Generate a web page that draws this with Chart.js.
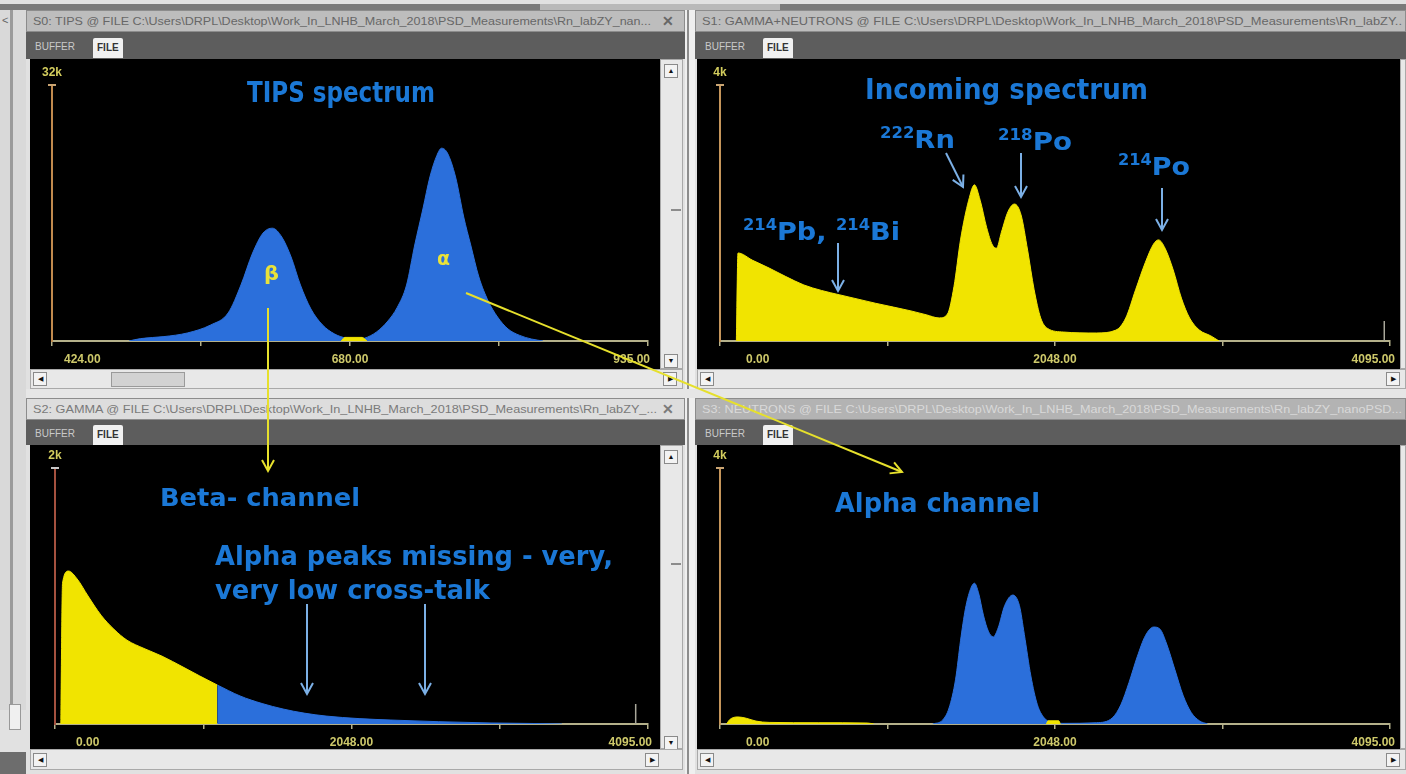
<!DOCTYPE html>
<html lang="en">
<head>
<meta charset="UTF-8">
<title>Rn spectra - TIPS, gamma and neutron channels</title>
<script src="https://cdn.jsdelivr.net/npm/chart.js"></script>
<style>
    body {
        margin: 0;
        width: 1406px;
        height: 774px;
        position: relative;
        overflow: hidden;
        background: #e1e1e1;
        font-family: "Liberation Sans", Arial, sans-serif;
    }
    .strip { position: absolute; }
    .titlebar {
        position: absolute;
        height: 22px;
        line-height: 21px;
        box-sizing: border-box;
        border: 1px solid #8c8c8c;
        font-size: 11px;
        white-space: nowrap;
        overflow: hidden;
    }
    .titlebar .txt { position: absolute; left: 6px; top: 0; transform-origin: 0 50%; }
    .titlebar .x { position: absolute; right: 10px; top: 0; font-size: 14px; font-weight: bold; }
    .tabrow { position: absolute; background: #5d5d5d; }
    .tab { position: absolute; font-size: 10px; height: 20px; line-height: 20px; }
    .tab.off { color: #c9c9c9; }
    .tab.on { background: #f1f1f1; color: #333; font-weight: bold; padding: 0 4px; border-radius: 2px 2px 0 0; }
    .plot { position: absolute; background: #000; }
    .scroll { position: absolute; background: #e8e8e8; box-sizing: border-box; border: 1px solid #a9a9a9; }
    .btn {
        position: absolute; width: 14px; height: 14px; box-sizing: border-box;
        background: #f3f3f3; border: 1px solid #8a8a8a;
        font-size: 7px; line-height: 12px; text-align: center; color: #111;
    }
    .thumb { position: absolute; background: #d2d2d2; border: 1px solid #9a9a9a; box-sizing: border-box; }
    .ann {
        position: absolute;
        font-family: "DejaVu Sans", sans-serif;
        font-weight: bold;
        color: #1b78d6;
        line-height: 1;
        white-space: nowrap;
        transform-origin: 0 0;
    }
    .ann sup { font-size: 0.6em; position: relative; top: -0.1em; vertical-align: top; }
    .greek { color: #e9e23a; }
    #overlay { position: absolute; left: 0; top: 0; width: 1406px; height: 774px; pointer-events: none; }
</style>
</head>
<body>

<!-- background chrome -->
<div class="strip" style="left:0;top:4px;width:1406px;height:6px;background:#7a7a7a"></div>
<div class="strip" style="left:540px;top:4px;width:240px;height:6px;background:#b9b9b9"></div>
<div class="strip" style="left:0;top:10px;width:26px;height:700px;background:#d9d9d9"></div>
<div class="strip" style="left:10px;top:10px;width:3px;height:700px;background:#9b9b9b"></div>
<div class="strip" style="left:2px;top:14px;font-size:11px;color:#666">&lt;</div>
<div class="strip" style="left:9px;top:704px;width:10px;height:24px;background:#f0f0f0;border:1px solid #999"></div>
<div class="strip" style="left:0;top:752px;width:26px;height:22px;background:#6d6d6d"></div>
<div class="strip" style="left:685px;top:10px;width:10px;height:764px;background:#efefef"></div>
<div class="strip" style="left:687px;top:10px;width:2px;height:764px;background:#8d8d8d"></div>
<div class="strip" style="left:26px;top:389px;width:1380px;height:9px;background:#e6e6e6"></div>

<!-- S0 : TIPS -->
<div class="titlebar" style="left:26px;top:10px;width:659px;background:#bdbdbd;color:#676767">
    <span class="txt" data-w="618">S0: TIPS @ FILE C:\Users\DRPL\Desktop\Work_In_LNHB_March_2018\PSD_Measurements\Rn_labZY_nan...</span>
    <span class="x">✕</span>
</div>
<div class="tabrow" style="left:26px;top:32px;width:659px;height:27px">
    <span class="tab off" style="left:9px;top:5px">BUFFER</span>
    <span class="tab on" style="left:67px;top:6px">FILE</span>
</div>
<div class="plot" style="left:30px;top:59px;width:630px;height:310px"><canvas id="tipsChart"></canvas></div>
<div class="scroll" style="left:660px;top:59px;width:23px;height:310px">
    <div class="btn" style="left:3px;top:4px">▲</div>
    <div class="strip" style="left:10px;top:149px;width:10px;height:2px;background:#8c8c8c"></div>
    <div class="btn" style="left:3px;top:294px">▼</div>
</div>
<div class="scroll" style="left:30px;top:369px;width:653px;height:20px">
    <div class="btn" style="left:2px;top:2px">◀</div>
    <div class="thumb" style="left:80px;top:2px;width:74px;height:15px"></div>
    <div class="btn" style="left:632px;top:2px">▶</div>
</div>

<!-- S1 : GAMMA+NEUTRONS -->
<div class="titlebar" style="left:695px;top:10px;width:711px;background:#bdbdbd;color:#676767">
    <span class="txt" data-w="700">S1: GAMMA+NEUTRONS @ FILE C:\Users\DRPL\Desktop\Work_In_LNHB_March_2018\PSD_Measurements\Rn_labZY..</span>
</div>
<div class="tabrow" style="left:695px;top:32px;width:711px;height:27px">
    <span class="tab off" style="left:10px;top:5px">BUFFER</span>
    <span class="tab on" style="left:68px;top:6px">FILE</span>
</div>
<div class="plot" style="left:697px;top:59px;width:703px;height:310px"><canvas id="incomingChart"></canvas></div>
<div class="scroll" style="left:1400px;top:59px;width:6px;height:310px"></div>
<div class="scroll" style="left:697px;top:369px;width:709px;height:20px">
    <div class="btn" style="left:2px;top:2px">◀</div>
    <div class="btn" style="left:688px;top:2px">▶</div>
</div>

<!-- S2 : GAMMA -->
<div class="titlebar" style="left:26px;top:398px;width:659px;background:#dddddd;color:#7a7a7a">
    <span class="txt" data-w="624">S2: GAMMA @ FILE C:\Users\DRPL\Desktop\Work_In_LNHB_March_2018\PSD_Measurements\Rn_labZY_...</span>
    <span class="x">✕</span>
</div>
<div class="tabrow" style="left:26px;top:420px;width:659px;height:25px">
    <span class="tab off" style="left:9px;top:4px">BUFFER</span>
    <span class="tab on" style="left:67px;top:5px">FILE</span>
</div>
<div class="plot" style="left:30px;top:445px;width:630px;height:304px"><canvas id="gammaChart"></canvas></div>
<div class="scroll" style="left:660px;top:445px;width:23px;height:304px">
    <div class="btn" style="left:3px;top:4px">▲</div>
    <div class="strip" style="left:10px;top:117px;width:10px;height:2px;background:#8c8c8c"></div>
    <div class="btn" style="left:3px;top:290px">▼</div>
</div>
<div class="scroll" style="left:30px;top:749px;width:653px;height:21px">
    <div class="btn" style="left:2px;top:3px">◀</div>
    <div class="btn" style="left:614px;top:3px">▶</div>
</div>

<!-- S3 : NEUTRONS -->
<div class="titlebar" style="left:695px;top:398px;width:711px;background:#b3b3b3;color:#d9d9d9">
    <span class="txt" data-w="700">S3: NEUTRONS @ FILE C:\Users\DRPL\Desktop\Work_In_LNHB_March_2018\PSD_Measurements\Rn_labZY_nanoPSD...</span>
</div>
<div class="tabrow" style="left:695px;top:420px;width:711px;height:25px">
    <span class="tab off" style="left:10px;top:4px">BUFFER</span>
    <span class="tab on" style="left:68px;top:5px">FILE</span>
</div>
<div class="plot" style="left:697px;top:445px;width:703px;height:304px"><canvas id="neutronChart"></canvas></div>
<div class="scroll" style="left:1400px;top:445px;width:6px;height:304px"></div>
<div class="scroll" style="left:697px;top:749px;width:709px;height:21px">
    <div class="btn" style="left:2px;top:3px">◀</div>
    <div class="btn" style="left:688px;top:3px">▶</div>
</div>

<!-- annotations -->
<div class="ann" style="left:247px;top:79px;font-size:28px" data-w="188">TIPS spectrum</div>
<div class="ann greek" style="left:264px;top:263px;font-size:20px" data-w="15">β</div>
<div class="ann greek" style="left:437px;top:248px;font-size:20px" data-w="13">α</div>

<div class="ann" style="left:865px;top:76px;font-size:28px" data-w="283">Incoming spectrum</div>
<div class="ann" style="left:880px;top:127px;font-size:25px" data-w="75"><sup>222</sup>Rn</div>
<div class="ann" style="left:998px;top:129px;font-size:25px" data-w="74"><sup>218</sup>Po</div>
<div class="ann" style="left:1118px;top:154px;font-size:25px" data-w="72"><sup>214</sup>Po</div>
<div class="ann" style="left:743px;top:219px;font-size:25px" data-w="157"><sup>214</sup>Pb, <sup>214</sup>Bi</div>

<div class="ann" style="left:160px;top:485px;font-size:25px" data-w="200">Beta- channel</div>
<div class="ann" style="left:215px;top:543px;font-size:26px" data-w="398">Alpha peaks missing - very,</div>
<div class="ann" style="left:215px;top:577px;font-size:26px" data-w="275">very low cross-talk</div>

<div class="ann" style="left:835px;top:490px;font-size:26px" data-w="205">Alpha channel</div>

<svg id="overlay" xmlns="http://www.w3.org/2000/svg"></svg>

<script>
    // S0: TIPS spectrum (channels 424..935)
    const tipsChannels = [490, 500, 520, 540, 560, 575, 586, 596, 605, 613, 621, 629, 637, 646, 656, 666, 676, 684, 692, 702, 712, 720, 728, 735, 742, 748, 754, 758, 763, 770, 777, 783, 790, 798, 806, 815, 825, 835, 845];
    const tipsCounts = [0, 300, 550, 1000, 2000, 3500, 7000, 11000, 13500, 14100, 13000, 10500, 7000, 4000, 2000, 900, 350, 150, 350, 1100, 2500, 4200, 7000, 12000, 16500, 20500, 23200, 24100, 23500, 20500, 15500, 12000, 8000, 5000, 3000, 1500, 700, 250, 0];
    const tipsCutChannels = [672, 675, 690, 694];
    const tipsCutCounts = [0, 450, 450, 0];

    // S1: incoming spectrum (gamma + neutrons), channels 0..4095
    const incomingChannels = [100, 110, 200, 300, 400, 513, 620, 733, 850, 950, 1060, 1167, 1260, 1340, 1390, 1430, 1470, 1520, 1555, 1590, 1630, 1665, 1690, 1720, 1760, 1800, 1840, 1880, 1920, 1960, 2000, 2100, 2300, 2420, 2480, 2540, 2600, 2650, 2680, 2720, 2770, 2820, 2870, 2930, 3000, 3050];
    const incomingCounts = [0, 1375, 1260, 1140, 1010, 875, 790, 720, 650, 590, 530, 470, 410, 360, 420, 850, 1580, 2200, 2440, 2200, 1770, 1500, 1450, 1700, 2020, 2140, 1970, 1420, 800, 360, 200, 140, 125, 170, 360, 800, 1230, 1515, 1580, 1450, 1110, 670, 360, 170, 80, 0];

    // S2: gamma (beta) channel, low part in yellow, rest in blue
    const betaLowChannels = [40, 52, 93, 153, 228, 318, 407, 497, 615, 739, 884, 1000, 1120];
    const betaLowCounts = [0, 1100, 1195, 1133, 1000, 850, 740, 655, 590, 530, 445, 375, 305];
    const betaHighChannels = [1120, 1278, 1430, 1575, 1720, 1872, 2100, 2320, 2650, 3011, 3300, 3500];
    const betaHighCounts = [305, 219, 160, 117, 85, 62, 42, 31, 18, 8, 4, 0];

    // S3: neutron (alpha) channel
    const alphaChannels = [1300, 1360, 1400, 1440, 1470, 1500, 1530, 1555, 1580, 1610, 1640, 1670, 1700, 1740, 1790, 1830, 1860, 1900, 1940, 1980, 2020, 2100, 2300, 2400, 2450, 2500, 2550, 2600, 2650, 2690, 2730, 2780, 2830, 2880, 2930, 2980];
    const alphaCounts = [0, 60, 250, 700, 1300, 1800, 2100, 2200, 2050, 1700, 1450, 1360, 1500, 1850, 2015, 1850, 1400, 750, 300, 100, 30, 10, 20, 100, 300, 650, 1050, 1380, 1515, 1480, 1250, 850, 450, 180, 50, 0];
    const alphaLowChannels = [40, 60, 110, 160, 220, 300, 600, 900, 940];
    const alphaLowCounts = [0, 70, 110, 90, 45, 25, 20, 15, 0];
    const alphaMidChannels = [1995, 2005, 2070, 2080];
    const alphaMidCounts = [0, 50, 50, 0];

    // axis ticks / labels
    const tipsTicks = [424, 551.75, 679.5, 807.25, 935];
    const tipsTickLabels = ['424.00', '680.00', '935.00'];
    const fullTicks = [0, 1023.75, 2047.5, 3071.25, 4095];
    const fullTickLabels = ['0.00', '2048.00', '4095.00'];

    const BLUE = '#2b6fdb';
    const YELLOW = '#f1e400';
    const AXIS = '#b4b08a';

    const toPoints = (xs, ys) => xs.map((x, i) => ({ x: x, y: ys[i] }));

    function area(xs, ys, color) {
        return {
            data: toPoints(xs, ys),
            borderColor: color,
            backgroundColor: color,
            borderWidth: 1,
            pointRadius: 0,
            fill: 'origin',
            cubicInterpolationMode: 'monotone'
        };
    }

    // y-axis top label ("32k"), cap, end marker and the three x labels
    const axisDecor = {
        id: 'axisDecor',
        afterDraw(chart, args, opts) {
            const { ctx, chartArea, scales } = chart;
            const x0 = chartArea.left;
            ctx.save();
            ctx.strokeStyle = opts.capColor;
            ctx.lineWidth = 2;
            ctx.beginPath();
            ctx.moveTo(x0 - 4, chartArea.top);
            ctx.lineTo(x0 + 4, chartArea.top);
            ctx.stroke();

            ctx.fillStyle = '#d3cd5e';
            ctx.font = 'bold 12px "Liberation Sans", Arial, sans-serif';
            ctx.textAlign = 'center';
            ctx.textBaseline = 'bottom';
            ctx.fillText(opts.topLabel, x0, chartArea.top - 6);

            if (opts.marker != null) {
                const mx = scales.x.getPixelForValue(opts.marker);
                ctx.strokeStyle = '#a9a79a';
                ctx.lineWidth = 1.5;
                ctx.beginPath();
                ctx.moveTo(mx, chartArea.bottom);
                ctx.lineTo(mx, chartArea.bottom - 20);
                ctx.stroke();
            }

            ctx.fillStyle = '#cdc86a';
            ctx.textBaseline = 'middle';
            const ly = chartArea.bottom + 19;
            const t = opts.ticks;
            const lab = opts.labels;
            ctx.textAlign = 'left';
            ctx.fillText(lab[0], scales.x.getPixelForValue(t[0]) + opts.firstOffset, ly);
            ctx.textAlign = 'center';
            ctx.fillText(lab[1], scales.x.getPixelForValue(t[2]), ly);
            ctx.textAlign = 'right';
            ctx.fillText(lab[2], scales.x.getPixelForValue(t[4]) + opts.lastOffset, ly);
            ctx.restore();
        }
    };

    function spectrum(id, cfg) {
        return new Chart(document.getElementById(id), {
            type: 'line',
            data: { datasets: cfg.datasets },
            options: {
                responsive: true,
                maintainAspectRatio: false,
                animation: false,
                events: [],
                layout: { padding: { top: cfg.pad[0], right: cfg.pad[1], bottom: 0, left: 0 } },
                scales: {
                    x: {
                        type: 'linear',
                        min: cfg.ticks[0],
                        max: cfg.ticks[4],
                        afterBuildTicks: s => { s.ticks = cfg.ticks.map(v => ({ value: v })); },
                        afterFit: s => { s.height = cfg.pad[2]; },
                        ticks: { display: false },
                        grid: { display: true, drawOnChartArea: false, drawTicks: true, tickLength: 5, color: AXIS, lineWidth: 1.5 },
                        border: { display: true, color: AXIS, width: 2 }
                    },
                    y: {
                        min: 0,
                        max: cfg.yMax,
                        afterFit: s => { s.width = cfg.pad[3]; },
                        ticks: { display: false },
                        grid: { display: false },
                        border: { display: true, color: cfg.yColor, width: 2 }
                    }
                },
                plugins: {
                    legend: { display: false },
                    tooltip: { enabled: false },
                    axisDecor: {
                        topLabel: cfg.topLabel,
                        capColor: cfg.capColor,
                        marker: cfg.marker,
                        ticks: cfg.ticks,
                        labels: cfg.labels,
                        firstOffset: cfg.firstOffset,
                        lastOffset: cfg.lastOffset
                    }
                }
            },
            plugins: [axisDecor]
        });
    }

    // pad = [top, right, bottom, left]
    spectrum('tipsChart', {
        datasets: [area(tipsCutChannels, tipsCutCounts, YELLOW), area(tipsChannels, tipsCounts, BLUE)],
        ticks: tipsTicks, labels: tipsTickLabels, yMax: 32000, topLabel: '32k',
        pad: [26, 12, 28, 22], yColor: '#c08a4e', capColor: '#c9a472',
        marker: null, firstOffset: 12, lastOffset: 2
    });

    spectrum('incomingChart', {
        datasets: [area(incomingChannels, incomingCounts, YELLOW)],
        ticks: fullTicks, labels: fullTickLabels, yMax: 4000, topLabel: '4k',
        pad: [26, 10, 28, 23], yColor: '#c5955a', capColor: '#c9a472',
        marker: 4060, firstOffset: 26, lastOffset: 5
    });

    spectrum('gammaChart', {
        datasets: [area(betaLowChannels, betaLowCounts, YELLOW), area(betaHighChannels, betaHighCounts, BLUE)],
        ticks: fullTicks, labels: fullTickLabels, yMax: 2000, topLabel: '2k',
        pad: [23, 12, 25, 25], yColor: '#a4513f', capColor: '#c8c8c8',
        marker: 4010, firstOffset: 21, lastOffset: 4
    });

    spectrum('neutronChart', {
        datasets: [area(alphaLowChannels, alphaLowCounts, YELLOW), area(alphaMidChannels, alphaMidCounts, YELLOW), area(alphaChannels, alphaCounts, BLUE)],
        ticks: fullTicks, labels: fullTickLabels, yMax: 4000, topLabel: '4k',
        pad: [23, 10, 25, 23], yColor: '#c5955a', capColor: '#c9a472',
        marker: null, firstOffset: 26, lastOffset: 5
    });

    // arrows drawn over the whole screenshot
    const svg = document.getElementById('overlay');
    function arrow(x1, y1, x2, y2, color) {
        const len = Math.hypot(x2 - x1, y2 - y1);
        const ux = (x2 - x1) / len, uy = (y2 - y1) / len;
        const bx = x2 - ux * 11, by = y2 - uy * 11;
        const px = -uy * 6, py = ux * 6;
        svg.insertAdjacentHTML('beforeend',
            `<line x1="${x1}" y1="${y1}" x2="${x2}" y2="${y2}" stroke="${color}" stroke-width="2"/>` +
            `<polyline points="${bx + px},${by + py} ${x2},${y2} ${bx - px},${by - py}" fill="none" stroke="${color}" stroke-width="2"/>`);
    }
    const LIGHT = '#7cb0e6';
    arrow(946, 153, 963, 187, LIGHT);
    arrow(1021, 153, 1021, 197, LIGHT);
    arrow(1162, 188, 1162, 230, LIGHT);
    arrow(838, 243, 838, 291, LIGHT);
    arrow(307, 604, 307, 694, LIGHT);
    arrow(425, 604, 425, 694, LIGHT);
    const YARROW = '#e6e02c';
    arrow(268, 308, 268, 471, YARROW);
    arrow(466, 293, 902, 472, YARROW);

    // squeeze text to the width it has in the screenshot
    function fitText() {
        document.querySelectorAll('[data-w]').forEach(el => {
            const w = el.getBoundingClientRect().width;
            if (w > 0) el.style.transform = `scaleX(${(+el.dataset.w) / w})`;
        });
    }
    if (document.fonts && document.fonts.ready) document.fonts.ready.then(fitText); else fitText();
</script>
</body>
</html>
